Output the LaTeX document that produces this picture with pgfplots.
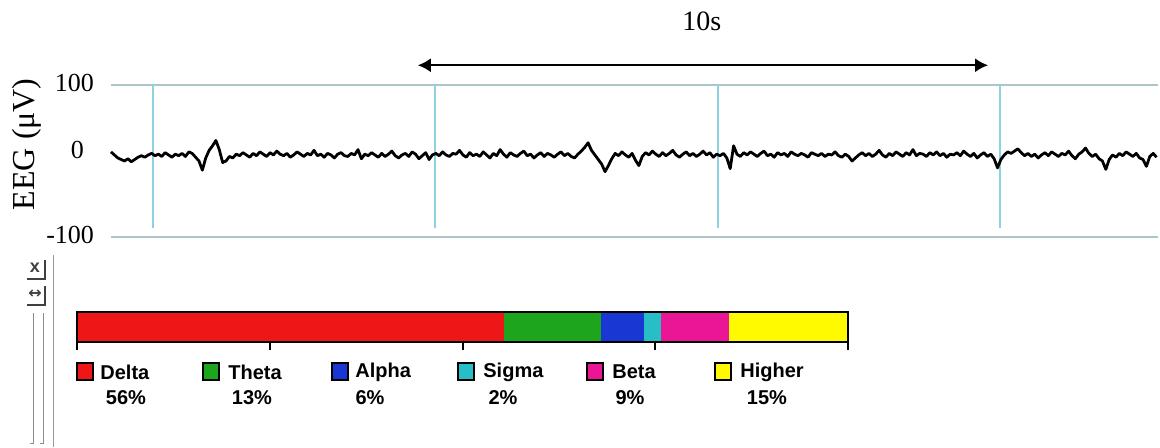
\documentclass[border=0pt]{standalone}
\usepackage{fontspec}
\setmainfont{Liberation Serif}
\newfontfamily\legfont{Liberation Sans}
\newfontfamily\symfont{DejaVu Sans}
\usepackage{pgfplots}
\pgfplotsset{compat=1.18}
\usepackage{pgfplotstable}
\usetikzlibrary{arrows.meta}
\definecolor{hgrid}{RGB}{172,198,200}
\definecolor{vgrid}{RGB}{140,210,225}
\definecolor{cdelta}{RGB}{238,22,22}
\definecolor{ctheta}{RGB}{30,165,30}
\definecolor{calpha}{RGB}{25,55,210}
\definecolor{csigma}{RGB}{40,190,200}
\definecolor{cbeta}{RGB}{235,22,150}
\definecolor{chigher}{RGB}{255,250,0}
\pgfplotstableread[row sep=\\]{
v\\
12\\8\\4\\2\\0\\3\\-1\\2\\5\\7\\
5\\8\\10\\7\\9\\6\\11\\8\\5\\9\\
7\\10\\6\\12\\10\\5\\0\\-12\\4\\14\\
20\\27\\15\\-2\\0\\6\\4\\9\\7\\11\\
8\\5\\10\\7\\12\\9\\6\\11\\8\\13\\
9\\7\\10\\5\\8\\12\\9\\6\\10\\8\\
14\\7\\9\\5\\10\\8\\4\\9\\11\\7\\
6\\10\\8\\15\\3\\9\\7\\11\\8\\5\\
10\\6\\9\\13\\7\\4\\8\\10\\6\\12\\
9\\3\\7\\11\\2\\8\\10\\7\\12\\8\\
6\\10\\9\\14\\8\\5\\11\\7\\9\\6\\
12\\8\\4\\10\\7\\15\\9\\5\\11\\8\\
6\\10\\13\\7\\9\\4\\8\\11\\6\\10\\
8\\5\\9\\12\\7\\10\\6\\4\\9\\13\\
18\\24\\14\\8\\2\\-4\\-14\\-6\\3\\10\\
7\\12\\8\\5\\10\\1\\-6\\6\\11\\8\\
13\\9\\6\\11\\7\\10\\14\\8\\5\\9\\
12\\7\\10\\6\\9\\13\\8\\11\\5\\9\\
7\\10\\4\\-10\\20\\9\\6\\11\\8\\12\\
9\\6\\10\\13\\7\\9\\5\\11\\8\\10\\
6\\12\\9\\7\\10\\8\\5\\11\\9\\7\\
10\\6\\9\\8\\12\\7\\5\\9\\6\\0\\
4\\8\\11\\7\\10\\6\\9\\14\\8\\5\\
10\\7\\12\\9\\6\\11\\8\\15\\7\\10\\
9\\6\\11\\8\\12\\7\\10\\5\\9\\8\\
11\\7\\13\\9\\6\\10\\4\\8\\11\\6\\
9\\3\\-9\\2\\8\\12\\10\\13\\16\\11\\
7\\10\\6\\9\\4\\8\\11\\7\\12\\9\\
6\\10\\8\\13\\7\\3\\9\\12\\17\\10\\
6\\9\\3\\0\\-11\\2\\8\\5\\10\\7\\
12\\9\\6\\10\\4\\2\\-7\\6\\10\\5\\
}\eeg
\begin{document}
\begin{tikzpicture}
\useasboundingbox (0pt,0pt) rectangle (580pt,-223.5pt);
% ---------------- EEG trace ----------------
\begin{axis}[
  scale only axis, width=523.5pt, height=76pt,
  at={(55.5pt,-118.5pt)}, anchor=south west,
  xmin=-0.744, xmax=17.80, ymin=-100, ymax=100,
  clip=false,
  axis line style={draw=none},
  xtick=\empty,
  ytick={-100,100},
  ymajorgrids, grid style={color=hgrid, line width=0.9pt},
  extra y ticks={0},
  extra y tick style={grid=none, yticklabel style={xshift=-5pt, yshift=4.5pt}},
  major tick length=0pt,
  /pgf/number format/assume math mode=true,
  yticklabel style={font=\fontsize{13}{13}\selectfont, xshift=-5pt, yshift=1pt},
  ylabel={EEG (μV)},
  ylabel style={font=\fontsize{16}{16}\selectfont, at={(axis description cs:-0.0802,0.61)}, anchor=center},
]
\draw[vgrid, line width=1pt] (axis cs:0,100) -- (axis cs:0,-88);
\draw[vgrid, line width=1pt] (axis cs:5,100) -- (axis cs:5,-88);
\draw[vgrid, line width=1pt] (axis cs:10,100) -- (axis cs:10,-88);
\draw[vgrid, line width=1pt] (axis cs:15,100) -- (axis cs:15,-88);
\addplot[black, line width=1.4pt, line join=round, mark=none]
  table[x expr=-0.744+\coordindex*0.05993, y=v] {\eeg};
\draw[{Latex[length=6.5pt,width=7pt]}-{Latex[length=6.5pt,width=7pt]}, line width=1pt]
  (axis cs:4.69,126) -- (axis cs:14.79,126);
\node[font=\fontsize{14}{14}\selectfont] at (axis cs:9.72,183.5) {10s};
\end{axis}
% ---------------- spectral bar ----------------
\begin{axis}[
  scale only axis, width=385.5pt, height=15pt,
  at={(38.5pt,-171pt)}, anchor=south west,
  xbar stacked, bar width=15pt,
  xmin=0, xmax=100, ymin=-0.5, ymax=0.5,
  ytick=\empty,
  xtick={0,25,50,75,100}, xticklabels={},
  xtick pos=bottom, tick align=outside, major tick length=4pt,
  tick style={black, line width=1pt},
  axis line style={black, line width=1pt},
  axis on top,
]
\addplot[fill=cdelta, draw=none] coordinates {(55.4,0)};
\addplot[fill=ctheta, draw=none] coordinates {(12.6,0)};
\addplot[fill=calpha, draw=none] coordinates {(5.5,0)};
\addplot[fill=csigma, draw=none] coordinates {(2.2,0)};
\addplot[fill=cbeta, draw=none] coordinates {(8.9,0)};
\addplot[fill=chigher, draw=none] coordinates {(15.4,0)};
\end{axis}
% ---------------- legend ----------------
\begin{scope}[every node/.style={font=\legfont\bfseries\fontsize{10}{10}\selectfont, inner sep=0pt}]
\filldraw[fill=cdelta, draw=black, line width=0.8pt] (38.5pt,-181.5pt) rectangle ++(8pt,-8.5pt);
\node[anchor=west] at (50pt,-186pt) {Delta};
\node at (63pt,-199pt) {56\%};
\filldraw[fill=ctheta, draw=black, line width=0.8pt] (101.5pt,-181.5pt) rectangle ++(8pt,-8.5pt);
\node[anchor=west] at (114pt,-186pt) {Theta};
\node at (126pt,-199pt) {13\%};
\filldraw[fill=calpha, draw=black, line width=0.8pt] (166pt,-181.5pt) rectangle ++(8pt,-8.5pt);
\node[anchor=west] at (177.5pt,-186pt) {Alpha};
\node at (185pt,-199pt) {6\%};
\filldraw[fill=csigma, draw=black, line width=0.8pt] (229pt,-181.5pt) rectangle ++(8pt,-8.5pt);
\node[anchor=west] at (241.5pt,-186pt) {Sigma};
\node at (251.5pt,-199pt) {2\%};
\filldraw[fill=cbeta, draw=black, line width=0.8pt] (293.5pt,-181.5pt) rectangle ++(8pt,-8.5pt);
\node[anchor=west] at (306pt,-186pt) {Beta};
\node at (315pt,-199pt) {9\%};
\filldraw[fill=chigher, draw=black, line width=0.8pt] (357.5pt,-181.5pt) rectangle ++(8pt,-8.5pt);
\node[anchor=west] at (370pt,-186pt) {Higher};
\node at (383.5pt,-199pt) {15\%};
\end{scope}
% ---------------- toolbar decoration ----------------
\begin{scope}[black!75]
\node[font=\legfont\bfseries\fontsize{9}{9}\selectfont, inner sep=0pt] at (17.5pt,-134pt) {x};
\draw[line width=0.7pt] (13.5pt,-139.5pt) -- (22.5pt,-139.5pt) -- (22.5pt,-130pt);
\node[font=\symfont\bfseries\fontsize{8}{8}\selectfont, inner sep=0pt] at (17.5pt,-147pt) {↔};
\draw[line width=0.7pt] (13.5pt,-152.5pt) -- (22.5pt,-152.5pt) -- (22.5pt,-143pt);
\draw[black!45, line width=0.5pt] (16.5pt,-156.5pt) -- (16.5pt,-221.5pt) -- (15pt,-221.5pt);
\draw[black!45, line width=0.5pt] (21.5pt,-156.5pt) -- (21.5pt,-221.5pt) -- (20pt,-221.5pt);
\draw[black!40, line width=0.5pt] (26.5pt,-127.5pt) -- (26.5pt,-223.5pt);
\end{scope}
\end{tikzpicture}
\end{document}
